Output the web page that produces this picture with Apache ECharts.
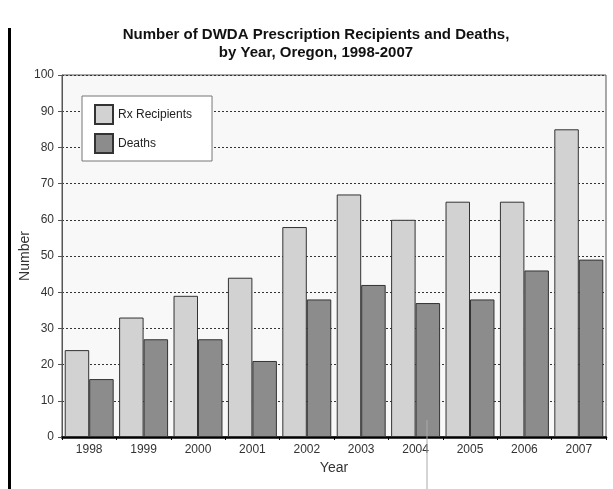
<!DOCTYPE html>
<html>
<head>
<meta charset="utf-8">
<script src="https://cdn.jsdelivr.net/npm/echarts@6/dist/echarts.min.js"></script>
<style>
  html, body { margin: 0; padding: 0; background: #fff; }
  #chart { width: 613px; height: 489px; }
</style>
</head>
<body>
<div id="chart"></div>
<script>
// Oregon Death with Dignity Act: prescriptions written and deaths, by year
const years = ['1998', '1999', '2000', '2001', '2002', '2003', '2004', '2005', '2006', '2007'];
const rxRecipients = [24, 33, 39, 44, 58, 67, 60, 65, 65, 85];
const deaths = [16, 27, 27, 21, 38, 42, 37, 38, 46, 49];
const yTicks = [0, 10, 20, 30, 40, 50, 60, 70, 80, 90, 100];

const chart = echarts.init(document.getElementById('chart'));
const font = 'Liberation Sans, Arial, sans-serif';

chart.setOption({
  animation: false,
  backgroundColor: '#fff',
  title: {
    text: 'Number of DWDA Prescription Recipients and Deaths,\nby Year, Oregon, 1998-2007',
    left: 311, top: 21, textAlign: 'center',
    textStyle: { fontFamily: font, fontSize: 15, fontWeight: 'bold', color: '#111', lineHeight: 18 }
  },
  grid: { left: 62, right: 7, top: 75, bottom: 52, show: true, backgroundColor: '#f8f8f8', borderColor: '#555', borderWidth: 1 },
  legend: {
    left: 82, top: 96, orient: 'vertical',
    padding: [8, 20, 7, 12],
    itemGap: 8, itemWidth: 18, itemHeight: 19,
    icon: 'rect',
    backgroundColor: '#fff', borderColor: '#777', borderWidth: 1,
    textStyle: { fontFamily: font, fontSize: 12, color: '#222' },
    data: ['Rx Recipients', 'Deaths']
  },
  xAxis: {
    type: 'category', data: years,
    name: 'Year', nameLocation: 'middle', nameGap: 20,
    nameTextStyle: { fontFamily: font, fontSize: 14, color: '#333' },
    axisLine: { lineStyle: { color: '#000', width: 2.5 } },
    axisTick: { show: true, alignWithLabel: false, length: 3, lineStyle: { color: '#000' } },
    axisLabel: { fontFamily: font, fontSize: 12, color: '#333', margin: 7 }
  },
  yAxis: {
    type: 'value', min: 0, max: 100, interval: 10,
    name: 'Number', nameLocation: 'middle', nameGap: 30, nameMoveOverlap: false,
    nameTextStyle: { fontFamily: font, fontSize: 14, color: '#333' },
    axisLine: { show: true, lineStyle: { color: '#555' } },
    axisTick: { show: true, length: 4, lineStyle: { color: '#555' } },
    axisLabel: { fontFamily: font, fontSize: 12, color: '#333', margin: 8,
      formatter: v => yTicks.includes(v) ? String(v) : '' },
    splitLine: { show: true, lineStyle: { color: '#333', type: [2, 2], width: 1 } }
  },
  series: [
    {
      name: 'Rx Recipients', type: 'bar', data: rxRecipients,
      barGap: '0%', barCategoryGap: '10%',
      itemStyle: { color: '#d2d2d2', borderColor: '#333', borderWidth: 1 }
    },
    {
      name: 'Deaths', type: 'bar', data: deaths,
      itemStyle: { color: '#8c8c8c', borderColor: '#333', borderWidth: 1 }
    }
  ],
  graphic: [
    { type: 'rect', shape: { x: 8, y: 28, width: 3, height: 461 }, style: { fill: '#000' }, z: 100 },
    { type: 'line', shape: { x1: 427, y1: 420, x2: 427, y2: 489 }, style: { stroke: '#aaa', lineWidth: 1 }, z: 100 }
  ]
});
</script>
</body>
</html>
